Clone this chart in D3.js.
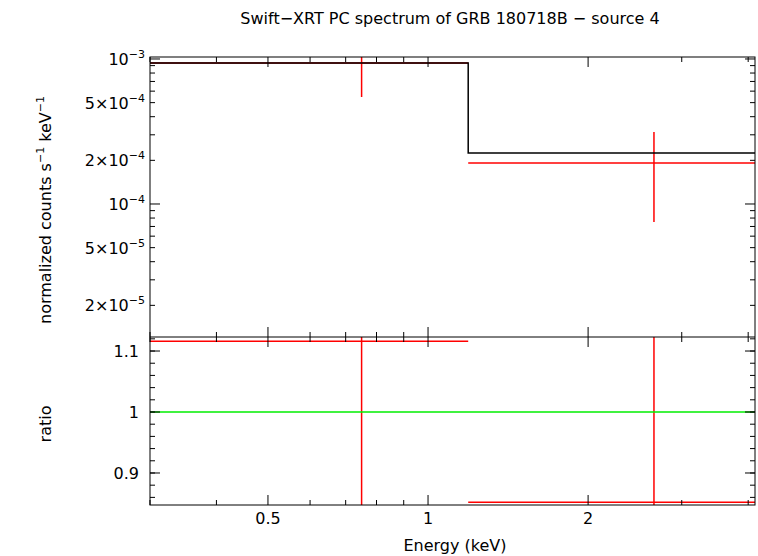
<!DOCTYPE html><html><head><meta charset="utf-8">
<script src="https://cdn.jsdelivr.net/npm/d3@7"></script>
<style>body{margin:0;background:#fff}text{font-family:"DejaVu Sans",sans-serif}</style></head><body>
<svg id="c" width="758" height="556"></svg>
<script>
const title="Swift\u2212XRT PC spectrum of GRB 180718B \u2212 source 4";
const binLo=[0.3,1.19], binHi=[1.19,4.12], binCenter=[0.75,2.66];
const modelVals=[9.4e-4,2.25e-4];
const dataVals=[9.4e-4,1.92e-4], dataErrLo=[5.47e-4,7.5e-5], dataErrHi=[1.2e-3,3.14e-4];
const ratioVals=[1.116,0.852], ratioErrLo=[0.8,0.8], ratioErrHi=[1.2,1.2];
const xTicks=[0.5,1,2], xTickLabels=["0.5","1","2"];
const yTicks=[1e-3,5e-4,2e-4,1e-4,5e-5,2e-5];
const yTickLabels=[["10","\u22123"],["5\u00d710","\u22124"],["2\u00d710","\u22124"],["10","\u22124"],["5\u00d710","\u22125"],["2\u00d710","\u22125"]];
const rTicks=[0.9,1,1.1], rTickLabels=["0.9","1","1.1"];

const L=150,R=755,T=57,M=337,B=505;
const svg=d3.select("#c");
const x=d3.scaleLog().domain([0.3,4.12]).range([L,R]);
const y=d3.scaleLog().domain([1.21e-5,1.032e-3]).range([M,T]);
const yr=d3.scaleLinear().domain([0.8475,1.123]).range([B,M]);
svg.append("clipPath").attr("id","c1").append("rect").attr("x",L).attr("y",T).attr("width",R-L).attr("height",M-T);
svg.append("clipPath").attr("id","c2").append("rect").attr("x",L).attr("y",M).attr("width",R-L).attr("height",B-M);
const g1=svg.append("g").attr("clip-path","url(#c1)"), g2=svg.append("g").attr("clip-path","url(#c2)");
binLo.forEach((lo,i)=>{
 g1.append("line").attr("x1",x(lo)).attr("x2",x(binHi[i])).attr("y1",y(dataVals[i])).attr("y2",y(dataVals[i])).attr("stroke","red").attr("stroke-width",1.5);
 g1.append("line").attr("x1",x(binCenter[i])).attr("x2",x(binCenter[i])).attr("y1",y(dataErrLo[i])).attr("y2",y(dataErrHi[i])).attr("stroke","red").attr("stroke-width",1.5);
 g2.append("line").attr("x1",x(lo)).attr("x2",x(binHi[i])).attr("y1",yr(ratioVals[i])).attr("y2",yr(ratioVals[i])).attr("stroke","red").attr("stroke-width",1.5);
 g2.append("line").attr("x1",x(binCenter[i])).attr("x2",x(binCenter[i])).attr("y1",yr(ratioErrLo[i])).attr("y2",yr(ratioErrHi[i])).attr("stroke","red").attr("stroke-width",1.5);
});
const mp=[];binLo.forEach((lo,i)=>{mp.push([x(lo),y(modelVals[i])]);mp.push([x(binHi[i]),y(modelVals[i])]);});
g1.append("path").attr("d",d3.line()(mp)).attr("fill","none").attr("stroke","#000").attr("stroke-width",1.5);
g2.append("line").attr("x1",L).attr("x2",R).attr("y1",yr(1)).attr("y2",yr(1)).attr("stroke","#0e0").attr("stroke-width",1.5);
svg.append("rect").attr("x",L).attr("y",T).attr("width",R-L).attr("height",B-T).attr("fill","none").attr("stroke","#000");
svg.append("line").attr("x1",L).attr("x2",R).attr("y1",M).attr("y2",M).attr("stroke","#000");
const tk=(x1,y1,x2,y2)=>svg.append("line").attr("x1",x1).attr("y1",y1).attr("x2",x2).attr("y2",y2).attr("stroke","#000");
const xMinor=[0.3,0.4,0.6,0.7,0.8,0.9,3,4];
[[T,1],[M,-1],[M,1],[B,-1]].forEach(([yy,d])=>{
 xTicks.forEach(v=>tk(x(v),yy,x(v),yy+d*10));
 xMinor.forEach(v=>tk(x(v),yy,x(v),yy+d*5));
});
xTicks.forEach((v,i)=>svg.append("text").attr("x",x(v)).attr("y",B+19).attr("text-anchor","middle").attr("font-size",16).text(xTickLabels[i]));
const yMaj=[1e-3,1e-4,1e-5], yMin=[];
[-5,-4].forEach(e=>{for(let k=2;k<10;k++)yMin.push(k*Math.pow(10,e));});
yMaj.filter(v=>v>=1.21e-5).forEach(v=>{tk(L,y(v),L+10,y(v));tk(R,y(v),R-10,y(v));});
yMin.filter(v=>v>=1.21e-5).forEach(v=>{tk(L,y(v),L+5,y(v));tk(R,y(v),R-5,y(v));});
yTicks.forEach((v,i)=>{
 const t=svg.append("text").attr("x",L-5).attr("y",y(v)+6).attr("text-anchor","end").attr("font-size",16);
 t.append("tspan").text(yTickLabels[i][0]);
 t.append("tspan").attr("dy",-7).attr("font-size",11).text(yTickLabels[i][1]);
});
rTicks.forEach((v,i)=>{tk(L,yr(v),L+10,yr(v));tk(R,yr(v),R-10,yr(v));
 svg.append("text").attr("x",L-11).attr("y",yr(v)+6).attr("text-anchor","end").attr("font-size",16).text(rTickLabels[i]);});
d3.range(0.86,1.12,0.02).forEach(v=>{tk(L,yr(v),L+5,yr(v));tk(R,yr(v),R-5,yr(v));});
svg.append("text").attr("x",450).attr("y",24).attr("text-anchor","middle").attr("font-size",16).text(title);
svg.append("text").attr("x",455).attr("y",551).attr("text-anchor","middle").attr("font-size",16).text("Energy (keV)");
svg.append("text").attr("transform","translate(51,424) rotate(-90)").attr("text-anchor","middle").attr("font-size",16).text("ratio");
const yl=svg.append("text").attr("transform","translate(51,210) rotate(-90)").attr("text-anchor","middle").attr("font-size",16);
yl.append("tspan").text("normalized counts s");yl.append("tspan").attr("dy",-7).attr("font-size",11).text("\u22121");
yl.append("tspan").attr("dy",7).text(" keV");yl.append("tspan").attr("dy",-7).attr("font-size",11).text("\u22121");
</script></body></html>
